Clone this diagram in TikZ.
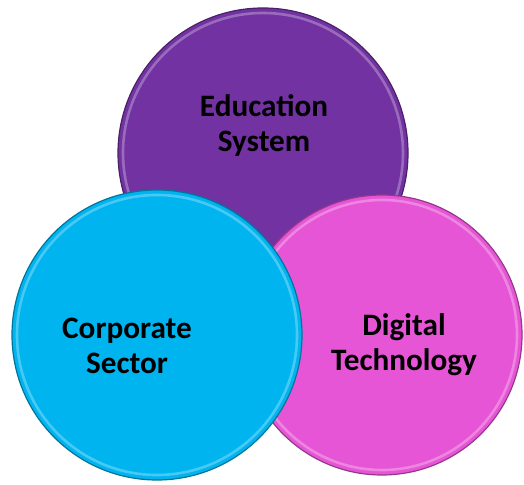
\documentclass[tikz,border=0pt]{standalone}
\usepackage{fontspec}
\setmainfont{Carlito}
\usepackage{xcolor}
\usetikzlibrary{positioning}
\definecolor{edupurple}{HTML}{7232A2}
\definecolor{corpcyan}{HTML}{00B4F0}
\definecolor{digimagenta}{HTML}{E655D6}
\tikzset{
  plate/.style={circle, inner sep=0pt, fill=#1, draw=#1!65!black, line width=0.6pt},
  rim/.style={draw=#1!72!white, line width=1.3pt},
  label/.style={align=center, font=\fontsize{15.6}{17.5}\selectfont\bfseries, text=black}
}

\begin{document}
\begin{tikzpicture}[x=0.5pt,y=-0.5pt]
\useasboundingbox (0,0) rectangle (524,485);
% back plate
\node[plate=edupurple, minimum size=145pt] (edu) at (263,153) {};
\draw[rim=edupurple] (edu.center) circle (140);
\node[label] (edutext) at (264,125) {Education\\System};
% middle plate
\node[plate=digimagenta, minimum size=140pt] (digi) at (382,335) {};
\draw[rim=digimagenta] (digi.center) circle (135);
\node[label] (digitext) at (404,345) {Digital\\Technology};
% front plate
\node[plate=corpcyan, minimum size=145pt] (corp) at (157,335) {};
\draw[rim=corpcyan] (corp.center) circle (140);
\node[label] (corptext) at (127,346) {Corporate\\Sector};
\end{tikzpicture}
\end{document}
